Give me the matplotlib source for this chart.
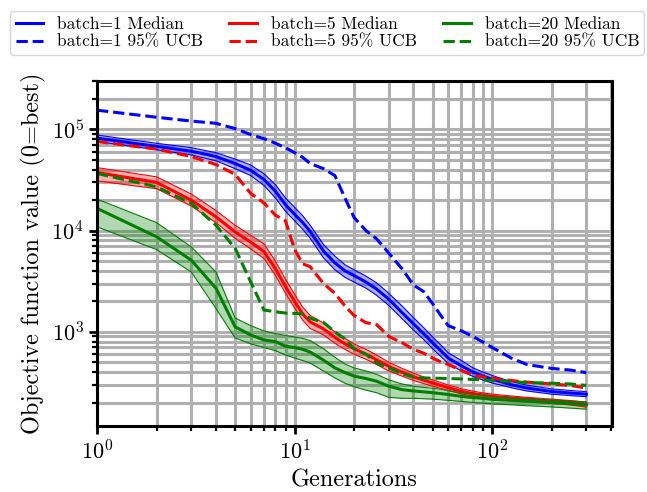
import matplotlib
matplotlib.use("Agg")
import matplotlib.pyplot as plt
import numpy as np

plt.rcParams["font.family"] = ["cmr10", "DejaVu Serif"]
plt.rcParams["mathtext.fontset"] = "cm"
plt.rcParams["axes.formatter.use_mathtext"] = True
plt.rcParams["axes.unicode_minus"] = False

# generations at which the runs were summarised
generations = [1, 2, 3, 4, 5, 6, 7, 8, 9, 10, 11, 12, 14, 16, 18, 20, 23, 26,
               30, 35, 40, 45, 50, 55, 60, 70, 80, 90, 100, 125, 150, 200, 250, 300]

# batch = 1
b1_median = [8.2e4, 6.8e4, 6.1e4, 5.4e4, 4.6e4, 3.95e4, 3.2e4, 2.45e4, 1.8e4, 1.45e4,
             1.2e4, 9.8e3, 6.3e3, 4.8e3, 4.0e3, 3.6e3, 3.1e3, 2.65e3, 2.1e3, 1.55e3,
             1.2e3, 960, 780, 650, 550, 460, 400, 365, 340, 300, 278, 257, 248, 242]
b1_hi = [8.8e4, 7.3e4, 6.6e4, 5.9e4, 5.1e4, 4.45e4, 3.65e4, 2.85e4, 2.1e4, 1.7e4,
         1.4e4, 1.13e4, 7.3e3, 5.6e3, 4.6e3, 4.1e3, 3.55e3, 3.05e3, 2.4e3, 1.8e3,
         1.38e3, 1.1e3, 890, 740, 620, 520, 440, 400, 370, 322, 297, 273, 263, 256]
b1_lo = [7.6e4, 6.3e4, 5.6e4, 4.9e4, 4.1e4, 3.5e4, 2.8e4, 2.1e4, 1.55e4, 1.25e4,
         1.03e4, 8.4e3, 5.4e3, 4.1e3, 3.45e3, 3.1e3, 2.7e3, 2.3e3, 1.82e3, 1.35e3,
         1.04e3, 840, 680, 570, 485, 410, 362, 333, 312, 280, 260, 242, 234, 228]
b1_ucb = [1.55e5, 1.32e5, 1.21e5, 1.15e5, 1.02e5, 8.9e4, 8.1e4, 7.3e4, 6.6e4, 5.9e4,
          5.3e4, 4.6e4, 4.1e4, 3.5e4, 2.1e4, 1.35e4, 1.0e4, 8.3e3, 6.0e3, 4.2e3,
          2.9e3, 2.5e3, 1.9e3, 1.45e3, 1.15e3, 1.02e3, 900, 790, 700, 550, 475, 435, 418, 395]

# batch = 5
b5_median = [3.75e4, 3.0e4, 2.0e4, 1.37e4, 9.7e3, 7.7e3, 6.2e3, 4.2e3, 2.8e3, 2.0e3,
             1.5e3, 1.25e3, 1.07e3, 880, 760, 680, 600, 530, 455, 400,
             360, 333, 312, 295, 280, 258, 245, 237, 230, 222, 216, 207, 200, 193]
b5_hi = [4.2e4, 3.4e4, 2.3e4, 1.58e4, 1.13e4, 9.0e3, 7.4e3, 5.0e3, 3.3e3, 2.35e3,
         1.75e3, 1.45e3, 1.22e3, 1.0e3, 860, 760, 670, 590, 500, 435,
         390, 358, 335, 315, 298, 274, 259, 249, 242, 232, 225, 216, 209, 202]
b5_lo = [3.1e4, 2.6e4, 1.75e4, 1.2e4, 8.4e3, 6.6e3, 5.3e3, 3.6e3, 2.4e3, 1.72e3,
         1.3e3, 1.08e3, 930, 770, 670, 600, 535, 475, 410, 365,
         330, 308, 290, 276, 263, 243, 232, 225, 219, 211, 205, 196, 189, 180]
b5_ucb = [7.6e4, 6.4e4, 5.4e4, 4.5e4, 3.6e4, 2.33e4, 1.88e4, 1.42e4, 1.25e4, 6.5e3,
          4.7e3, 4.4e3, 3.0e3, 2.4e3, 1.8e3, 1.45e3, 1.23e3, 1.18e3, 900, 780,
          670, 615, 550, 505, 475, 415, 372, 358, 348, 330, 318, 305, 295, 278]

# batch = 20
b20_median = [1.66e4, 8.7e3, 5.1e3, 2.7e3, 1.12e3, 930, 830, 800, 720, 700,
              670, 630, 525, 440, 395, 365, 345, 325, 290, 268,
              260, 255, 250, 245, 240, 230, 224, 220, 215, 210, 206, 200, 195, 190]
b20_hi = [2.05e4, 1.2e4, 6.9e3, 3.9e3, 1.37e3, 1.15e3, 1.02e3, 960, 920, 890,
          860, 820, 680, 560, 480, 440, 410, 380, 335, 305,
          290, 282, 277, 270, 262, 250, 242, 236, 230, 223, 218, 212, 207, 202]
b20_lo = [1.09e4, 6.5e3, 3.9e3, 1.7e3, 870, 760, 700, 650, 590, 550,
          520, 490, 410, 350, 310, 287, 265, 250, 225, 220,
          220, 218, 216, 213, 210, 205, 200, 197, 194, 190, 186, 181, 176, 172]
b20_ucb = [3.67e4, 2.71e4, 1.86e4, 1.13e4, 6.7e3, 3.1e3, 1.64e3, 1.58e3, 1.53e3, 1.52e3,
           1.5e3, 1.36e3, 1.24e3, 1.0e3, 850, 680, 600, 490, 440, 385,
           355, 350, 348, 347, 345, 342, 338, 335, 332, 322, 315, 310, 305, 295]

runs = [
    ("batch=1", "blue", b1_median, b1_lo, b1_hi, b1_ucb),
    ("batch=5", "red", b5_median, b5_lo, b5_hi, b5_ucb),
    ("batch=20", "green", b20_median, b20_lo, b20_hi, b20_ucb),
]

fig = plt.figure(figsize=(6.47, 4.92), dpi=100)
ax = fig.add_axes([0.150, 0.134, 0.796, 0.701])
ax.set_xscale("log")
ax.set_yscale("log")
ax.set_axisbelow(True)
ax.grid(True, which="both", color="#b0b0b0", lw=2.2)

x = np.array(generations)
handles = []
for name, c, med, lo, hi, ucb in runs:
    ax.fill_between(x, lo, hi, color=c, alpha=0.3, lw=0)
    ax.plot(x, lo, color=c, lw=0.8)
    ax.plot(x, hi, color=c, lw=0.8)
    h1, = ax.plot(x, med, color=c, lw=2.2, label=f"{name} Median")
    h2, = ax.plot(x, ucb, color=c, lw=2.2, ls="--", label=f"{name} 95% UCB")
    handles += [h1, h2]

ax.set_xlim(1, 405)
ax.set_ylim(117, 3.0e5)
ax.set_xlabel("Generations", fontsize=17.5)
ax.set_ylabel("Objective function value (0=best)", fontsize=17.5)
ax.tick_params(which="major", length=6, width=2, labelsize=16)
ax.tick_params(which="minor", length=3.8, width=1.6)
for s in ax.spines.values():
    s.set_linewidth(2.2)

fig.legend(handles=handles, loc="upper center", bbox_to_anchor=(0.506, 0.995),
           ncol=3, fontsize=12.5, handlelength=1.6, columnspacing=1.5,
           labelspacing=0.15, borderpad=0.3, frameon=True, fancybox=True,
           edgecolor="#cccccc")

fig.savefig("out.png", dpi=100)
